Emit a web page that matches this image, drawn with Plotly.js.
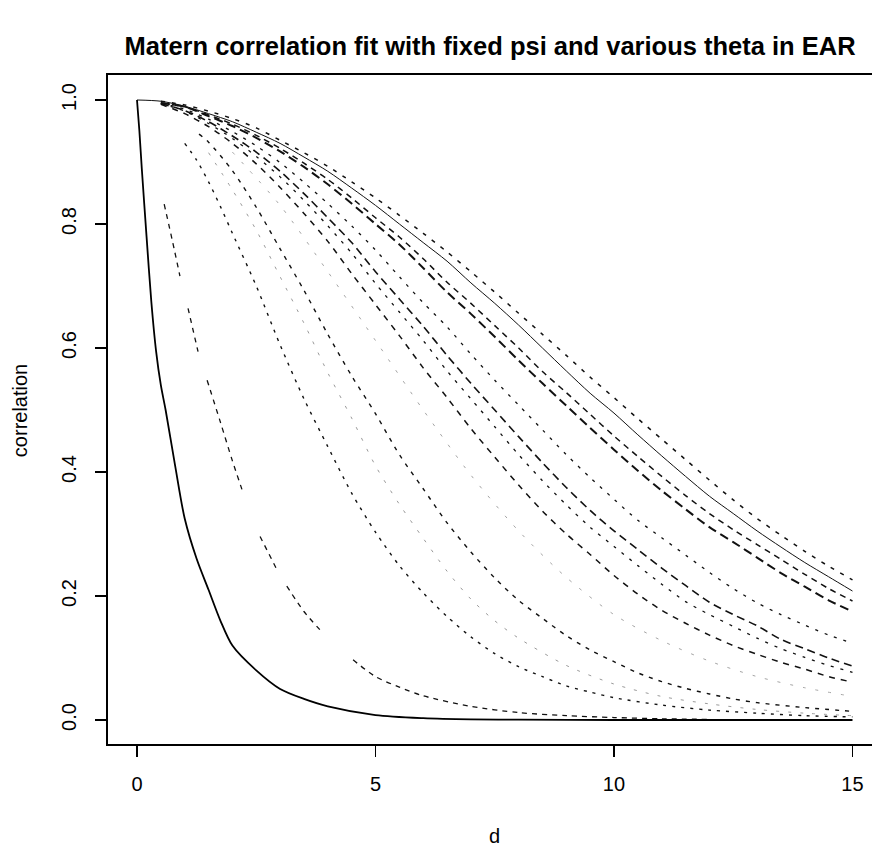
<!DOCTYPE html>
<html><head><meta charset="utf-8">
<script src="https://cdn.plot.ly/plotly-3.0.1.min.js"></script>
<style>html,body{margin:0;padding:0;background:#fff}</style>
</head><body>
<div id="chart" style="width:872px;height:850px"></div>
<script>
// ---- data ----
const titleText = 'Matern correlation fit with fixed psi and various theta in EAR';
const xTicks = [0, 5, 10, 15];
const yTicks = [0, 0.2, 0.4, 0.6, 0.8, 1.0];
const yTickLabels = ['0.0', '0.2', '0.4', '0.6', '0.8', '1.0'];

// steepest solid curve
const dSteep = [0,0.05,0.1,0.2,0.3,0.4,0.5,0.6,0.8,1,1.25,1.5,1.75,2,2.5,3,3.5,4,5,6,7,8,10,12,15];
const rSteep = [1,0.95,0.89,0.78,0.675,0.595,0.54,0.5,0.41,0.325,0.26,0.21,0.16,0.12,0.08,0.05,0.034,0.022,0.008,0.003,0.001,0.0005,0,0,0];

// second curve (broken dashes)
const dC1 = [0.57,0.75,0.9,null,1.07,1.28,null,1.47,1.75,2,2.2,null,2.58,2.93,null,3.14,3.5,3.9,null,4.53,5,5.5,6,7,8,9,10,11,12];
const rC1 = [0.832,0.77,0.716,null,0.664,0.594,null,0.548,0.48,0.418,0.372,null,0.296,0.243,null,0.216,0.175,0.14,null,0.097,0.07,0.053,0.039,0.022,0.012,0.007,0.004,0.002,0.001];

const dC2 = [1,1.25,1.5,1.75,2,2.5,3,3.5,4,4.5,5,5.5,6,6.5,7,7.5,8,8.5,9,9.5,10,11,12,13,14,15];
const rC2 = [0.93,0.903,0.868,0.828,0.785,0.70,0.605,0.518,0.441,0.366,0.303,0.249,0.205,0.167,0.134,0.107,0.086,0.07,0.055,0.045,0.036,0.024,0.016,0.011,0.007,0.005];

const dC3 = [1.3,1.5,2,2.5,3,3.5,4,4.5,5,5.5,6,6.5,7,7.5,8,8.5,9,9.5,10,10.5,11,11.5,12,12.5,13,14,15];
const rC3 = [0.945,0.932,0.886,0.827,0.76,0.693,0.622,0.555,0.494,0.428,0.373,0.318,0.271,0.229,0.193,0.164,0.136,0.113,0.094,0.076,0.062,0.051,0.042,0.034,0.028,0.02,0.014];

// faint (light) curves
const dF1 = [1.5,2,2.5,3,3.5,4,4.5,5,5.5,6,6.5,7,7.5,8,9,10,11,12,13,14,15];
const rF1 = [0.915,0.855,0.79,0.715,0.64,0.56,0.487,0.41,0.348,0.293,0.24,0.195,0.16,0.132,0.088,0.058,0.038,0.026,0.017,0.011,0.007];
const dF2 = [2,3,4,5,6,7,8,9,10,11,12,13,14,15];
const rF2 = [0.916,0.83,0.723,0.612,0.5,0.395,0.305,0.23,0.17,0.128,0.095,0.07,0.052,0.038];

// upper family of curves
const dBand = [0.5,1,1.5,2,2.5,3,3.5,4,4.5,5,5.5,6,6.5,7,7.5,8,8.5,9,9.5,10,10.5,11,11.5,12,12.5,13,13.5,14,14.5,15];
const rMc = [0.993,0.978,0.957,0.930,0.897,0.859,0.817,0.772,0.720,0.670,0.620,0.568,0.520,0.470,0.424,0.379,0.337,0.300,0.267,0.233,0.203,0.177,0.156,0.137,0.120,0.106,0.093,0.082,0.070,0.061];
const rMb = [0.994,0.982,0.962,0.938,0.909,0.876,0.838,0.797,0.753,0.704,0.658,0.612,0.563,0.518,0.473,0.428,0.386,0.347,0.311,0.280,0.249,0.219,0.191,0.170,0.151,0.132,0.115,0.101,0.088,0.077];
const rMa = [0.994,0.983,0.965,0.942,0.916,0.885,0.849,0.810,0.770,0.723,0.679,0.635,0.588,0.543,0.500,0.457,0.415,0.375,0.338,0.305,0.275,0.245,0.217,0.190,0.170,0.152,0.130,0.115,0.100,0.087];
const rM0 = [0.995,0.985,0.969,0.949,0.926,0.899,0.867,0.833,0.797,0.758,0.715,0.673,0.634,0.590,0.548,0.508,0.468,0.428,0.391,0.356,0.322,0.294,0.266,0.238,0.212,0.189,0.170,0.153,0.137,0.124];
const rG4 = [0.995,0.989,0.974,0.958,0.939,0.917,0.892,0.864,0.833,0.800,0.767,0.729,0.690,0.655,0.618,0.580,0.543,0.507,0.471,0.436,0.402,0.370,0.340,0.311,0.287,0.262,0.237,0.215,0.193,0.175];
const rG3 = [0.995,0.989,0.976,0.961,0.943,0.922,0.898,0.872,0.842,0.810,0.779,0.744,0.706,0.672,0.636,0.600,0.562,0.528,0.493,0.458,0.425,0.393,0.362,0.333,0.307,0.283,0.259,0.235,0.212,0.192];
const rG1 = [0.998,0.992,0.982,0.970,0.955,0.935,0.915,0.893,0.868,0.842,0.814,0.785,0.755,0.723,0.690,0.656,0.622,0.588,0.553,0.520,0.486,0.453,0.420,0.387,0.355,0.325,0.298,0.272,0.248,0.226];
const dG2 = [0,0.5,1,1.5,2,2.5,3,3.5,4,4.5,5,5.5,6,6.5,7,7.5,8,8.5,9,9.5,10,10.5,11,11.5,12,12.5,13,13.5,14,14.5,15];
const rG2 = [1,0.998,0.990,0.978,0.965,0.948,0.930,0.908,0.885,0.858,0.830,0.800,0.770,0.740,0.705,0.672,0.637,0.600,0.563,0.527,0.495,0.460,0.426,0.393,0.361,0.333,0.305,0.279,0.254,0.231,0.208];

// ---- drawing ----
function tr(x, y, dash, width, color) {
  return {x: x, y: y, type: 'scatter', mode: 'lines', connectgaps: false,
    line: {color: color || '#111', width: width, dash: dash, shape: 'spline', smoothing: 0.8},
    hoverinfo: 'skip', showlegend: false};
}
const traces = [
  tr(dF1, rF1, '3px,9px', 1, '#9a9a9a'),
  tr(dF2, rF2, '3px,10px', 1, '#a5a5a5'),
  tr(dC1, rC1, '5px,5px', 1.3),
  tr(dC2, rC2, '3px,6px', 1.4),
  tr(dC3, rC3, '4px,6px', 1.4),
  tr(dBand, rMc, '6px,6px', 1.5),
  tr(dBand, rMb, '3px,7px', 1.3),
  tr(dBand, rMa, '8px,5px', 1.6),
  tr(dBand, rM0, '3px,7px', 1.3),
  tr(dBand, rG4, '9px,5px', 2),
  tr(dBand, rG3, '6px,5px', 1.5),
  tr(dBand, rG1, '4px,7px', 1.5),
  tr(dG2, rG2, 'solid', 1),
  tr(dSteep, rSteep, 'solid', 1.8, '#000')
];

const F = '"Liberation Sans", Arial, Helvetica, sans-serif';
const layout = {
  width: 872, height: 850,
  margin: {l: 108, r: 0, t: 75, b: 106, pad: 0},
  paper_bgcolor: '#fff', plot_bgcolor: '#fff',
  font: {family: F, color: '#000', size: 20},
  title: {text: titleText, font: {family: F, size: 25.5, weight: 'bold', color: '#000'},
    xref: 'container', yref: 'container', x: 0.562, xanchor: 'center', y: 1 - 46/850, yanchor: 'middle'},
  xaxis: {range: [-0.608, 15.409], tickvals: xTicks, ticktext: xTicks.map(String),
    ticks: 'outside', ticklen: 11, tickwidth: 1.5, tickcolor: '#000',
    showline: true, mirror: true, linecolor: '#000', linewidth: 1.8,
    showgrid: false, zeroline: false, ticklabelstandoff: 10,
    tickfont: {family: F, size: 20, color: '#000'}},
  yaxis: {range: [-0.0387, 1.0403], tickvals: yTicks, ticktext: yTickLabels,
    tickangle: -90, ticks: 'outside', ticklen: 11, tickwidth: 1.5, tickcolor: '#000',
    showline: true, mirror: false, linecolor: '#000', linewidth: 1.8,
    showgrid: false, zeroline: false, ticklabelstandoff: 11,
    tickfont: {family: F, size: 20, color: '#000'}},
  annotations: [
    {text: 'd', xref: 'paper', yref: 'paper', x: 0.506, y: -0.1375, xanchor: 'center', yanchor: 'middle',
      showarrow: false, font: {family: F, size: 20, color: '#000'}},
    {text: 'correlation', xref: 'paper', yref: 'paper', x: -0.1152, y: 0.499, xanchor: 'center', yanchor: 'middle',
      textangle: -90, showarrow: false, font: {family: F, size: 20, color: '#000'}}
  ]
};
Plotly.newPlot('chart', traces, layout, {displayModeBar: false, staticPlot: true});
</script>
</body></html>
